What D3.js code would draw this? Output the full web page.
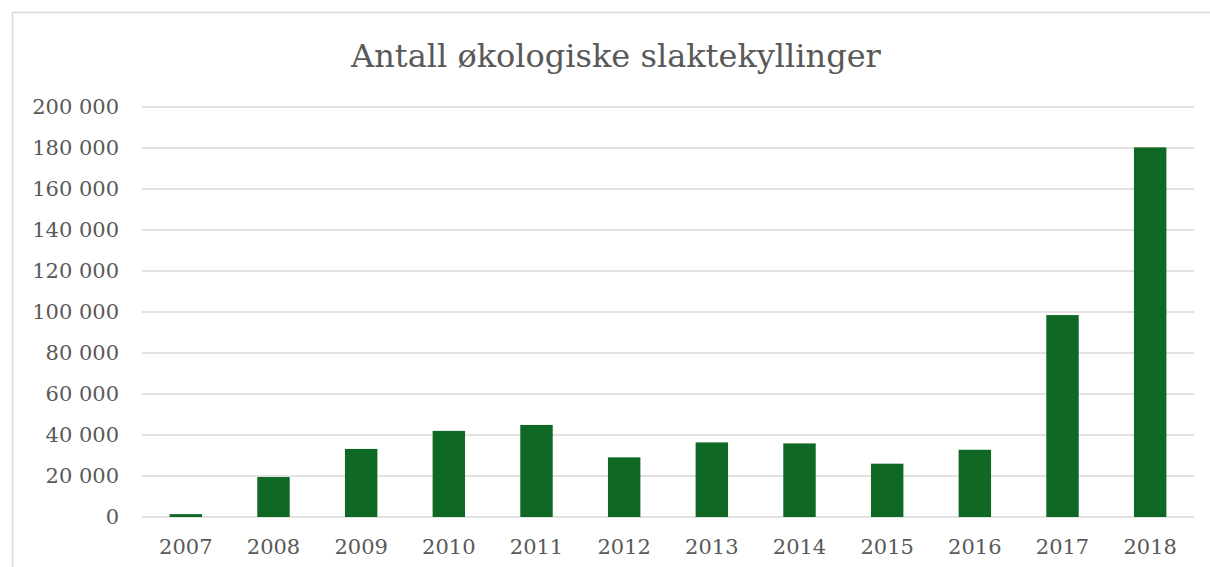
<!DOCTYPE html>
<html>
<head>
<meta charset="utf-8">
<script src="https://cdn.jsdelivr.net/npm/d3@7"></script>
<style>
  body { margin: 0; background: #fff; }
</style>
</head>
<body>
<div id="chart"></div>
<script>
const years = ['2007', '2008', '2009', '2010', '2011', '2012', '2013', '2014', '2015', '2016', '2017', '2018'];
const chickens = [1400, 19500, 33200, 42000, 44900, 29100, 36400, 35900, 26000, 32800, 98500, 180300];
const yTicks = [0, 20000, 40000, 60000, 80000, 100000, 120000, 140000, 160000, 180000, 200000];
const title = 'Antall økologiske slaktekyllinger';

const W = 1210;
const H = 567;
const margin = {
  top: 107, right: 16, bottom: 50, left: 142,
};
const width = W - margin.left - margin.right;
const height = H - margin.top - margin.bottom;
const font = '"DejaVu Serif", Georgia, serif';

const svg = d3.select('#chart').append('svg')
  .attr('width', W)
  .attr('height', H);

// chart area frame
svg.append('rect')
  .attr('x', 12.5)
  .attr('y', 12.5)
  .attr('width', W)
  .attr('height', H)
  .attr('fill', 'none')
  .attr('stroke', '#d9d9d9')
  .attr('stroke-width', 1.5);

svg.append('text')
  .attr('x', 616)
  .attr('y', 67)
  .attr('text-anchor', 'middle')
  .attr('font-family', font)
  .attr('font-size', '32px')
  .attr('fill', '#595959')
  .text(title);

const g = svg.append('g')
  .attr('transform', `translate(${margin.left},${margin.top})`);

const x = d3.scaleBand()
  .domain(years)
  .range([0, width])
  .paddingInner(0.63)
  .paddingOuter(0.315);

const y = d3.scaleLinear()
  .domain([0, 200000])
  .range([height, 0]);

// gridlines
g.append('g')
  .selectAll('line')
  .data(yTicks)
  .enter().append('line')
  .attr('x1', 0)
  .attr('x2', width)
  .attr('y1', (d) => y(d))
  .attr('y2', (d) => y(d))
  .attr('stroke', '#d9d9d9')
  .attr('stroke-width', 1.5);

g.selectAll('.bar')
  .data(years)
  .enter().append('rect')
  .attr('class', 'bar')
  .attr('x', (d) => x(d))
  .attr('width', x.bandwidth())
  .attr('y', (d, i) => y(chickens[i]))
  .attr('height', (d, i) => height - y(chickens[i]))
  .attr('fill', '#0f6824');

// y axis labels
const yAxis = g.append('g')
  .call(d3.axisLeft(y)
    .tickValues(yTicks)
    .tickSize(0)
    .tickPadding(23)
    .tickFormat((d) => d3.format(',')(d).replace(/,/g, ' ')));
yAxis.select('.domain').remove();
yAxis.selectAll('text')
  .attr('font-family', font)
  .attr('font-size', '21px')
  .attr('fill', '#595959');

// x axis labels
const xAxis = g.append('g')
  .attr('transform', `translate(0,${height})`)
  .call(d3.axisBottom(x).tickSize(0).tickPadding(22));
xAxis.select('.domain').remove();
xAxis.selectAll('text')
  .attr('font-family', font)
  .attr('font-size', '21px')
  .attr('fill', '#595959');
</script>
</body>
</html>
